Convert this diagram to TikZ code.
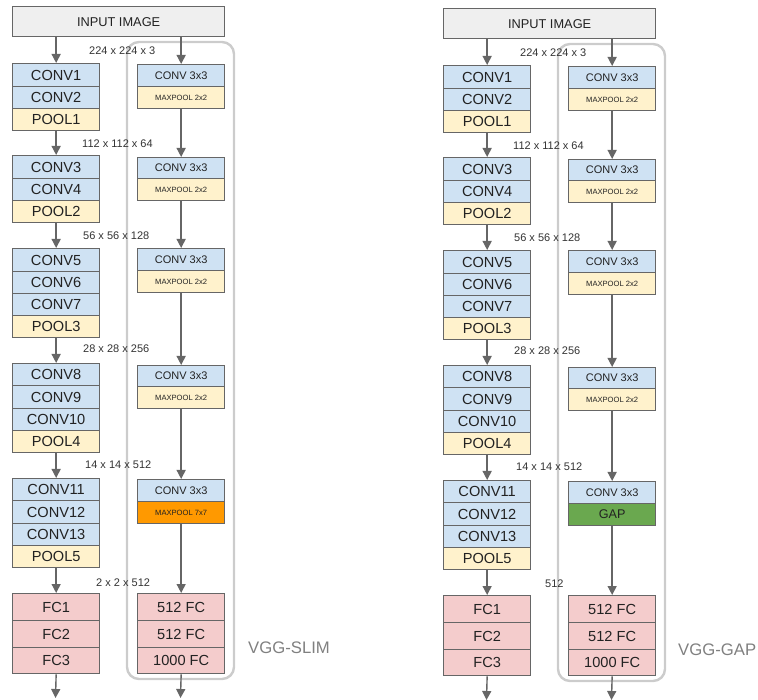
\documentclass[tikz,border=0pt]{standalone}
\usepackage{fontspec}
\setmainfont{Liberation Sans}
\usetikzlibrary{arrows.meta}

\definecolor{convblue}{HTML}{CFE2F3}
\definecolor{poolyellow}{HTML}{FFF2CC}
\definecolor{fcpink}{HTML}{F4CCCC}
\definecolor{poolorange}{HTML}{FF9900}
\definecolor{gapgreen}{HTML}{6AA84F}
\definecolor{inputgray}{HTML}{EFEFEF}
\definecolor{edgegray}{HTML}{666666}
\definecolor{framegray}{HTML}{CCCCCC}
\definecolor{labelgray}{HTML}{333333}
\definecolor{titlegray}{HTML}{808080}
\definecolor{inktext}{HTML}{222222}

\tikzset{
  cell/.style={draw=edgegray, line width=1.3pt, anchor=north west,
    minimum width=87pt, inner sep=0pt, text=inktext},
  bigcell/.style={cell, font=\fontsize{14.6}{16}\selectfont},
  conv/.style={bigcell, fill=convblue},
  pool/.style={bigcell, fill=poolyellow},
  fc/.style={bigcell, fill=fcpink},
  sconv/.style={cell, fill=convblue, font=\fontsize{11}{12}\selectfont},
  smaxpool/.style={cell, fill=poolyellow, font=\fontsize{7.6}{8}\selectfont},
  inputbox/.style={cell, fill=inputgray, minimum width=212pt,
    font=\fontsize{12.8}{14}\selectfont},
  flow/.style={draw=edgegray, line width=1.4pt, -{Triangle[width=9pt,length=9pt]}},
  frame/.style={draw=framegray, line width=2.4pt, rounded corners=12pt},
  dims/.style={anchor=west, inner sep=0pt, text=labelgray,
    font=\fontsize{11}{12}\selectfont},
  tag/.style={anchor=west, inner sep=0pt, text=titlegray,
    font=\fontsize{16.7}{18}\selectfont},
}

% Part shared by both networks: VGG column on the left, slim column on the right
\newcommand\vggcommon[1]{%
  \draw[frame] (127,42) rectangle (234,679);
  \node[inputbox, minimum height=30pt] (#1-in) at (12,6) {INPUT IMAGE};
  % VGG-16 stack
  \node[conv, minimum height=23pt] (#1-c1) at (12,63) {CONV1};
  \node[conv, minimum height=22pt] (#1-c2) at (12,86) {CONV2};
  \node[pool, minimum height=22pt] (#1-p1) at (12,108) {POOL1};
  \node[conv, minimum height=23pt] (#1-c3) at (12,155) {CONV3};
  \node[conv, minimum height=22pt] (#1-c4) at (12,178) {CONV4};
  \node[pool, minimum height=22pt] (#1-p2) at (12,200) {POOL2};
  \node[conv, minimum height=23pt] (#1-c5) at (12,248) {CONV5};
  \node[conv, minimum height=22pt] (#1-c6) at (12,271) {CONV6};
  \node[conv, minimum height=22pt] (#1-c7) at (12,293) {CONV7};
  \node[pool, minimum height=22pt] (#1-p3) at (12,315) {POOL3};
  \node[conv, minimum height=22pt] (#1-c8) at (12,363) {CONV8};
  \node[conv, minimum height=23pt] (#1-c9) at (12,385) {CONV9};
  \node[conv, minimum height=22pt] (#1-c10) at (12,408) {CONV10};
  \node[pool, minimum height=22pt] (#1-p4) at (12,430) {POOL4};
  \node[conv, minimum height=22pt] (#1-c11) at (12,478) {CONV11};
  \node[conv, minimum height=23pt] (#1-c12) at (12,500) {CONV12};
  \node[conv, minimum height=22pt] (#1-c13) at (12,523) {CONV13};
  \node[pool, minimum height=22pt] (#1-p5) at (12,545) {POOL5};
  \node[fc, minimum height=27pt] (#1-fc1) at (12,593) {FC1};
  \node[fc, minimum height=27pt] (#1-fc2) at (12,620) {FC2};
  \node[fc, minimum height=26pt] (#1-fc3) at (12,647) {FC3};
  % slim stack
  \node[sconv, minimum height=22pt] (#1-r1a) at (137,64) {CONV 3x3};
  \node[smaxpool, minimum height=22pt] (#1-r1b) at (137,86) {MAXPOOL 2x2};
  \node[sconv, minimum height=21pt] (#1-r2a) at (137,157) {CONV 3x3};
  \node[smaxpool, minimum height=22pt] (#1-r2b) at (137,178) {MAXPOOL 2x2};
  \node[sconv, minimum height=22pt] (#1-r3a) at (137,248) {CONV 3x3};
  \node[smaxpool, minimum height=22pt] (#1-r3b) at (137,270) {MAXPOOL 2x2};
  \node[sconv, minimum height=21pt] (#1-r4a) at (137,365) {CONV 3x3};
  \node[smaxpool, minimum height=22pt] (#1-r4b) at (137,386) {MAXPOOL 2x2};
  \node[sconv, minimum height=22pt] (#1-r5a) at (137,479) {CONV 3x3};
  \node[fc, minimum height=27pt] (#1-f1) at (137,593) {512 FC};
  \node[fc, minimum height=27pt] (#1-f2) at (137,620) {512 FC};
  \node[fc, minimum height=26pt] (#1-f3) at (137,647) {1000 FC};
  % feature map sizes
  \node[dims] (#1-d1) at (89,51) {224 x 224 x 3};
  \node[dims] (#1-d2) at (82,143.5) {112 x 112 x 64};
  \node[dims] (#1-d3) at (83,236) {56 x 56 x 128};
  \node[dims] (#1-d4) at (83,348.5) {28 x 28 x 256};
  \node[dims] (#1-d5) at (85,465) {14 x 14 x 512};
  % connectors of the VGG-16 stack
  \draw[flow] (#1-in.south -| #1-c1.north) -- (#1-c1.north);
  \draw[flow] (#1-p1.south) -- (#1-c3.north);
  \draw[flow] (#1-p2.south) -- (#1-c5.north);
  \draw[flow] (#1-p3.south) -- (#1-c8.north);
  \draw[flow] (#1-p4.south) -- (#1-c11.north);
  \draw[flow] (#1-p5.south) -- (#1-fc1.north);
  \coordinate (#1-outl) at (55.5,698);
  \draw[flow] (#1-fc3.south) -- (#1-outl);
  % connectors of the slim stack
  \draw[flow] (#1-in.south -| #1-r1a.north) -- (#1-r1a.north);
  \draw[flow] (#1-r1b.south) -- (#1-r2a.north);
  \draw[flow] (#1-r2b.south) -- (#1-r3a.north);
  \draw[flow] (#1-r3b.south) -- (#1-r4a.north);
  \draw[flow] (#1-r4b.south) -- (#1-r5a.north);
  \coordinate (#1-outr) at (180.5,698);
  \draw[flow] (#1-f3.south) -- (#1-outr);
}

\begin{document}
\begin{tikzpicture}[x=1pt, y=-1pt]
  \useasboundingbox (0,0) rectangle (758,700);

  % VGG-SLIM
  \begin{scope}
    \vggcommon{s}
    \node[cell, fill=poolorange, minimum height=22pt,
      font=\fontsize{7.6}{8}\selectfont] (s-r5b) at (137,501) {MAXPOOL 7x7};
    \draw[flow] (s-r5b.south) -- (s-f1.north);
    \node[dims] (s-d6) at (96,583) {2 x 2 x 512};
    \node[tag] (s-tag) at (248,648) {VGG-SLIM};
  \end{scope}

  % VGG-GAP
  \begin{scope}[shift={(431,2)}]
    \vggcommon{g}
    \node[cell, fill=gapgreen, minimum height=22pt,
      font=\fontsize{12.6}{14}\selectfont] (g-r5b) at (137,501) {GAP};
    \draw[flow] (g-r5b.south) -- (g-f1.north);
    \node[dims] (g-d6) at (114,582) {512};
    \node[tag] (g-tag) at (247,648) {VGG-GAP};
  \end{scope}
\end{tikzpicture}
\end{document}
